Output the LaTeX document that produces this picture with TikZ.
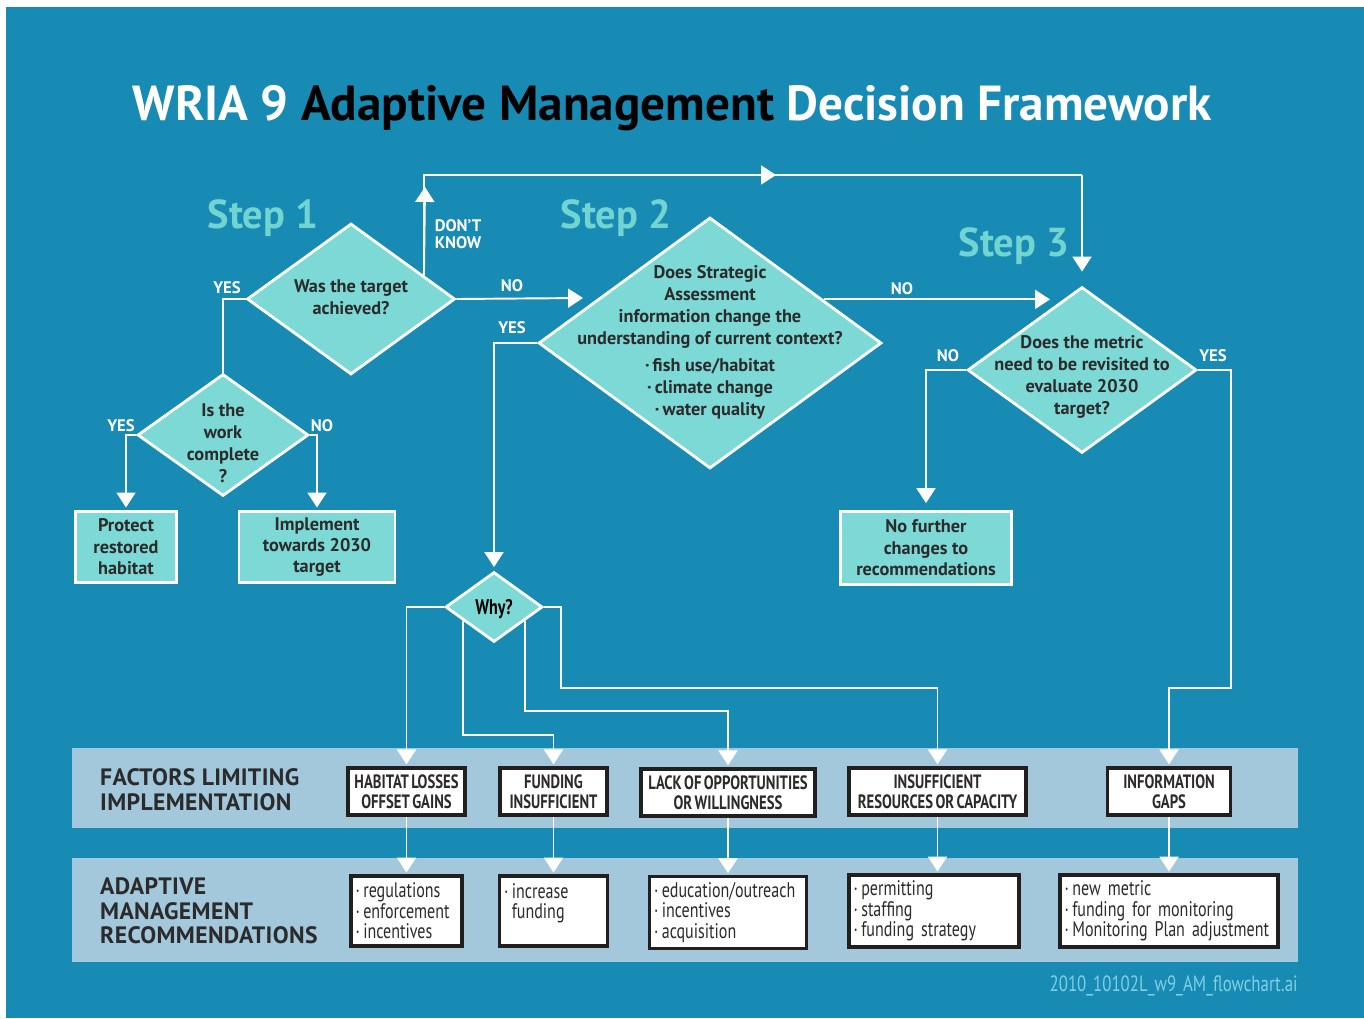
\documentclass[tikz,border=0pt]{standalone}
\usepackage{fontspec}
\setmainfont{PT Sans}
\newfontfamily\condfont[FakeStretch=0.76,WordSpace=0.65]{PT Sans}
\newfontfamily\bandfont[LetterSpace=1.5]{PT Sans}
\usetikzlibrary{shapes.geometric,arrows.meta,positioning}

\definecolor{wriablue}{HTML}{188BB5}
\definecolor{qfill}{HTML}{7DD9D5}
\definecolor{steptext}{HTML}{72D4D1}
\definecolor{bandfill}{HTML}{A3C8DC}
\definecolor{inktext}{HTML}{2B2B2B}
\definecolor{boxline}{HTML}{231F20}
\definecolor{filename}{HTML}{80CFE2}

\tikzset{
  question/.style={diamond, draw=white, line width=1.6pt, fill=qfill, inner sep=0pt},
  qtext/.style={align=center, text=inktext, font=\bfseries\fontsize{10.4}{12.5}\selectfont},
  outcome/.style={rectangle, draw=white, line width=1.6pt, fill=qfill, inner sep=0pt,
    align=center, text=inktext, font=\bfseries\fontsize{10.4}{12.2}\selectfont},
  factor/.style={rectangle, draw=boxline, line width=2.2pt, fill=white, inner sep=0pt,
    minimum height=0.94cm, align=center, text=inktext,
    font=\condfont\bfseries\fontsize{11}{11.4}\selectfont},
  remedy/.style={rectangle, draw=boxline, line width=2pt, fill=white, inner xsep=2.5pt,
    minimum height=1.40cm, align=left, text=inktext,
    font=\condfont\fontsize{12}{11.6}\selectfont,
    execute at begin node={\hyphenpenalty=10000\exhyphenpenalty=10000}},
  choice/.style={text=white, font=\bfseries\fontsize{9.5}{9.6}\selectfont, align=left},
  stepname/.style={text=steptext, font=\bfseries\fontsize{23}{26}\selectfont},
  bandlabel/.style={anchor=north west, align=left, text=inktext,
    font=\bandfont\bfseries\fontsize{13.5}{14.2}\selectfont},
  flow/.style={draw=white, line width=1.1pt},
  tip/.style={flow, -{Triangle[width=10.8pt,length=8.5pt]}},
}

\begin{document}
\begin{tikzpicture}[x=0.02cm, y=-0.02cm]
\useasboundingbox (0,0) rectangle (1364,1018);
\fill[white] (0,0) rectangle (1364,1018);
\fill[wriablue] (6,7) rectangle (1364,1018);

\node[anchor=base, font=\bfseries\fontsize{28}{32}\selectfont] (title) at (672,120)
  {\textcolor{white}{WRIA 9} Adaptive Management \textcolor{white}{Decision Framework}};

\node[stepname] (step1) at (263,218) {Step 1};
\node[stepname] (step2) at (616,218) {Step 2};
\node[stepname] (step3) at (1014,246) {Step 3};

% questions
\node[question, minimum width=4.16cm, minimum height=3.02cm] (q1) at (351,299) {};
\node[qtext] (q1t) at (351,297) {Was the target\\achieved?};
\node[question, minimum width=3.42cm, minimum height=2.44cm] (q2) at (223,435) {};
\node[qtext] (q2t) at (223,443) {Is the\\work\\complete\\?};
\node[question, minimum width=6.86cm, minimum height=5.02cm] (q3) at (710,343) {};
\node[qtext] (q3t) at (710,342) {Does Strategic\\Assessment\\information change the\\understanding of current context?\\[3pt]
  ·\,fish use/habitat\\·\,climate change\\·\,water quality};
\node[question, minimum width=4.58cm, minimum height=3.32cm] (q4) at (1082,370) {};
\node[qtext] (q4t) at (1082,377) {Does the metric\\need to be revisited to\\evaluate 2030\\target?};
\node[question, minimum width=1.94cm, minimum height=1.40cm] (why) at (494,607) {};
\node[qtext, text=black, font=\condfont\bfseries\fontsize{12}{13}\selectfont] (whyt) at (494,609) {Why?};

% end points
\node[outcome, minimum width=2.02cm, minimum height=1.42cm] (prot) at (126,547) {Protect\\restored\\habitat};
\node[outcome, minimum width=3.12cm, minimum height=1.42cm] (impl) at (317,547) {Implement\\towards 2030\\target};
\node[outcome, minimum width=3.42cm, minimum height=1.46cm] (nochg) at (926,548) {No further\\changes to\\recommendations};

% bands
\fill[bandfill] (72,748) rectangle (1298,828);
\fill[bandfill] (72,858) rectangle (1298,962);
\node[bandlabel] (limits) at (94,762) {FACTORS LIMITING\\IMPLEMENTATION};
\node[bandlabel] (recs) at (94,871) {ADAPTIVE\\MANAGEMENT\\RECOMMENDATIONS};

\node[factor, minimum width=2.34cm] (f1) at (406.5,791.5) {HABITAT LOSSES\\OFFSET GAINS};
\node[factor, minimum width=2.14cm] (f2) at (553.5,791.5) {FUNDING\\INSUFFICIENT};
\node[factor, minimum width=3.48cm] (f3) at (728,792.5) {LACK OF OPPORTUNITIES\\OR WILLINGNESS};
\node[factor, minimum width=3.54cm] (f4) at (937.5,791.5) {INSUFFICIENT\\RESOURCES OR CAPACITY};
\node[factor, minimum width=2.46cm] (f5) at (1169,791.5) {INFORMATION\\GAPS};

\node[remedy, text width=2.04cm] (r1) at (406.5,911) {·\,regulations\\·\,enforcement\\·\,incentives};
\node[remedy, text width=1.98cm] (r2) at (553.5,911) {·\,increase\\\hphantom{·\,}funding\\\mbox{}};
\node[remedy, text width=2.96cm] (r3) at (728,912.5) {·\,education/outreach\\·\,incentives\\·\,acquisition};
\node[remedy, text width=3.22cm] (r4) at (934,911) {·\,permitting\\·\,staffing\\·\,funding strategy};
\node[remedy, text width=4.18cm] (r5) at (1169,911) {·\,new metric\\·\,funding for monitoring\\·\,Monitoring Plan adjustment};

\node[anchor=base east, inner sep=0pt, text=filename, font=\condfont\fontsize{12.6}{13}\selectfont] (file) at (1298,991)
  {2010\_10102L\_w9\_AM\_flowchart.ai};

% step 1 connectors
\coordinate (n1) at (583,298);
\coordinate (dk) at (425,175);
\coordinate (dkr) at (1082,175);
\draw[flow] (q1.west) -| (q2.north);
\draw[tip] (q1.east) -- (n1);
\draw[flow] (q1.18) |- (dkr);
\draw[tip] (q1.18) -- (425,187);
\draw[tip] (dk) -- (776,175);
\draw[tip, shorten >=8pt] (dkr) -- (q4.north);
\draw[tip, shorten >=1.5pt] (q2.west) -| (prot.north);
\draw[tip, shorten >=1.5pt] (q2.east) -| (impl.north);
\node[choice] (l1) at (227,288) {YES};
\node[choice] (l2) at (512,286) {NO};
\node[choice] (l3) at (458,234) {DON'T\\KNOW};
\node[choice] (l4) at (121,426) {YES};
\node[choice] (l5) at (322,426) {NO};

% step 2 and 3 connectors
\coordinate (n3) at (1050,299);
\draw[tip] (q3.21) -- (q3.21 -| n3);
\draw[tip, shorten >=2pt] (q3.west) -| (why.north);
\draw[tip, shorten >=4pt] (q4.west) -| (nochg.north);
\coordinate (y3) at (1231,688);
\draw[tip, shorten >=1pt] (q4.east) -| (y3) -| (f5.north);
\node[choice] (l6) at (512,328) {YES};
\node[choice] (l7) at (902,289) {NO};
\node[choice] (l8) at (948,356) {NO};
\node[choice] (l9) at (1213,356) {YES};

% why? branches
\coordinate (w2) at (553.5,735);
\coordinate (w3) at (728,711);
\coordinate (w4) at (937.5,688);
\draw[tip, shorten >=1pt] (why.west) -| (f1.north);
\draw[tip, shorten >=1pt] (why.204) |- (w2) -- (f2.north);
\draw[tip, shorten >=1pt] (why.336) |- (w3) -- (f3.north);
\draw[tip, shorten >=1pt] (why.east) -- ++(17,0) |- (w4) -- (f4.north);

% factors to recommendations
\foreach \i in {1,...,5}
  \draw[tip, shorten >=1pt] (f\i.south) -- (f\i.south |- r\i.north);
\end{tikzpicture}
\end{document}
